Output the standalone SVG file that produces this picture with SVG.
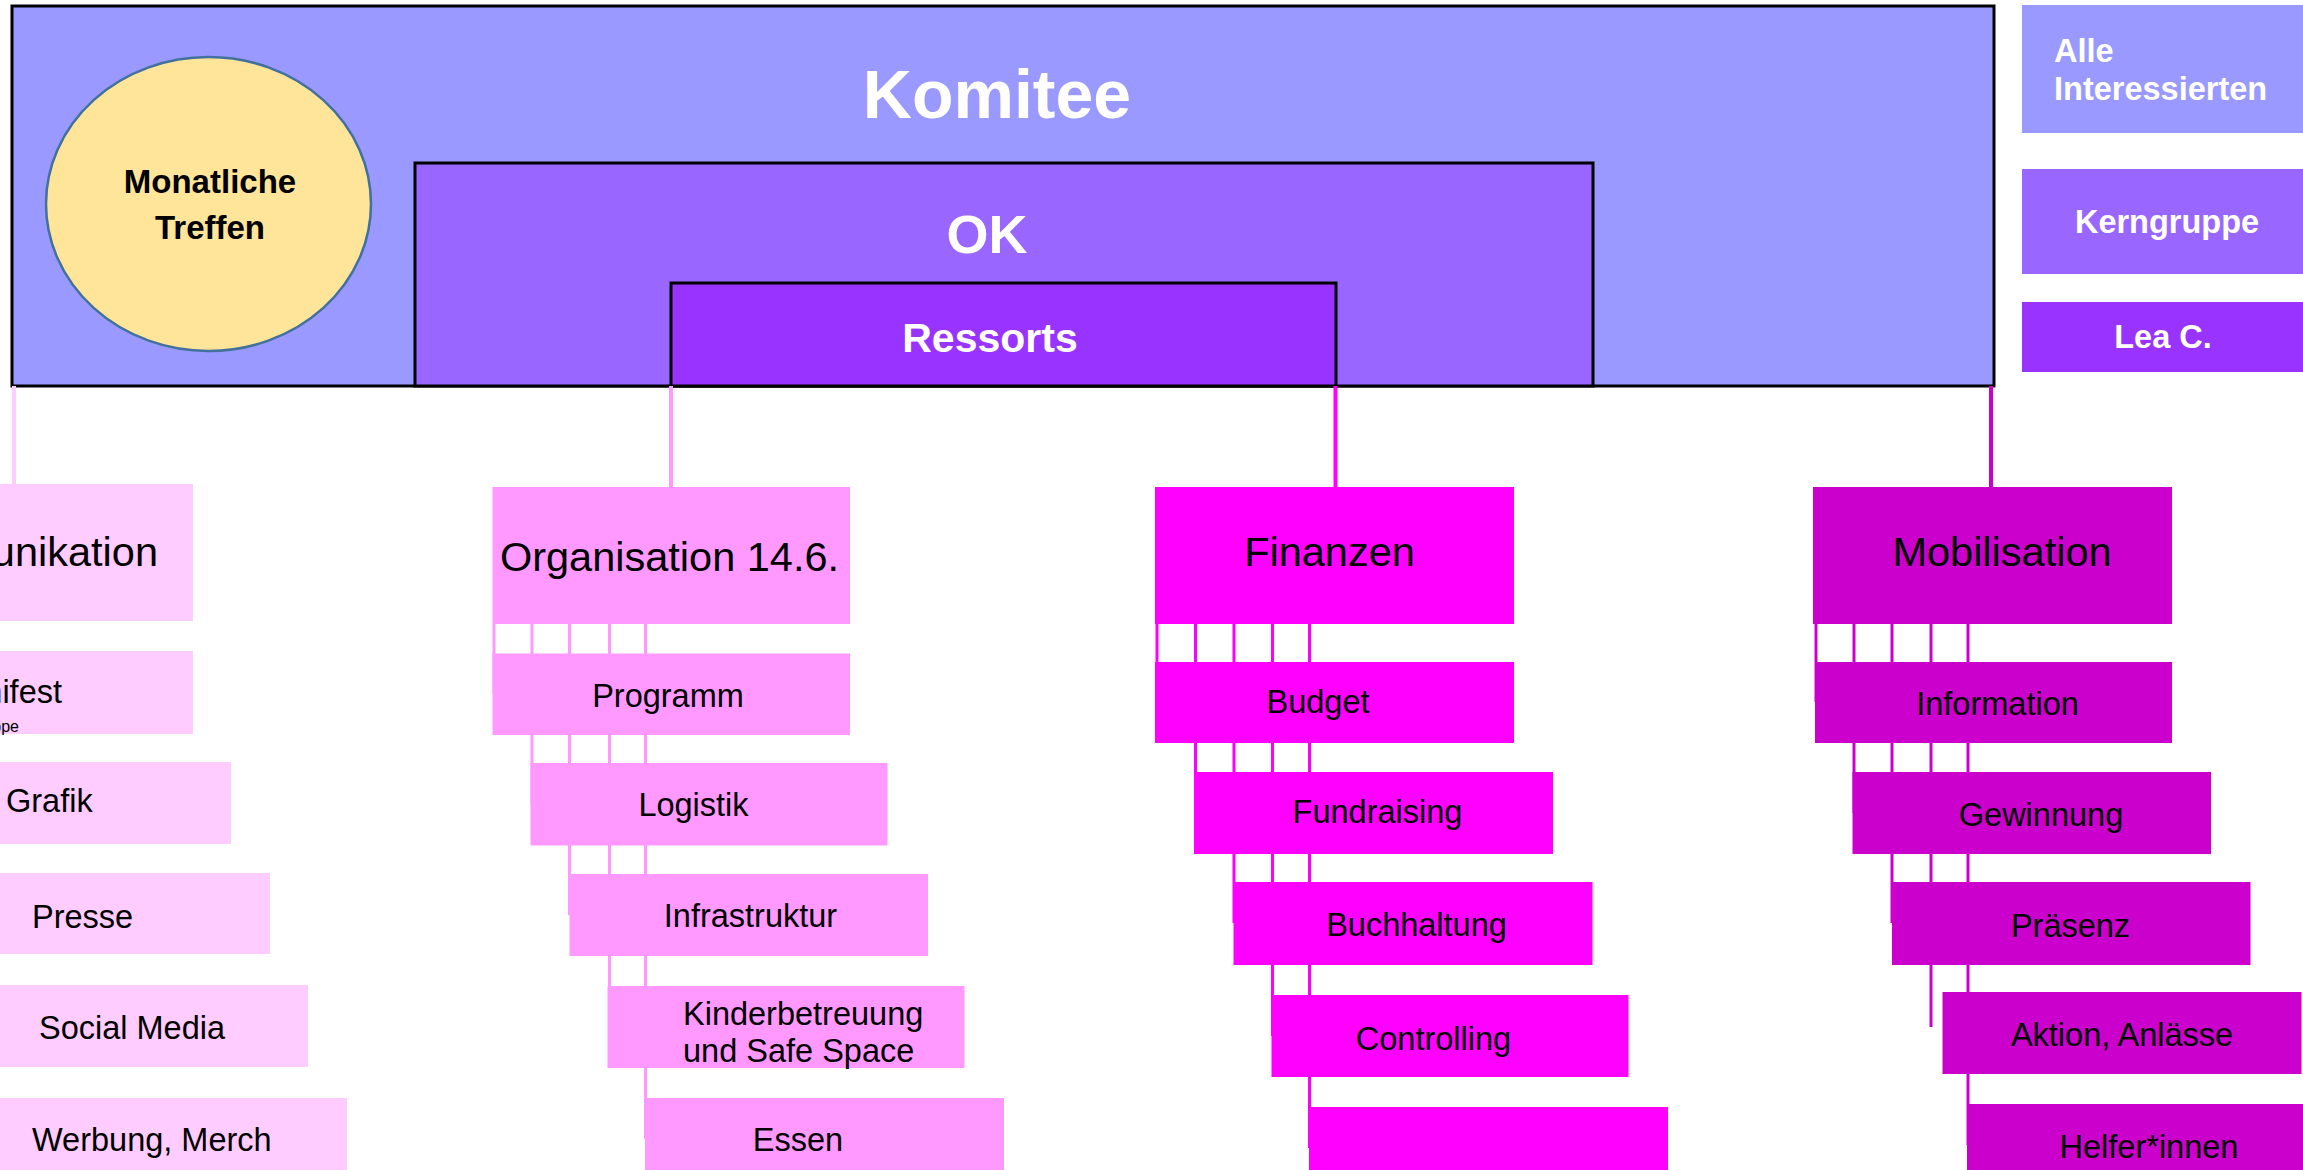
<svg xmlns="http://www.w3.org/2000/svg" width="2303" height="1170" viewBox="0 0 2303 1170">
<style>
.tb{font-family:"Liberation Sans",Arial,sans-serif;font-weight:bold;fill:#FFFFFF}
.tk{font-family:"Liberation Sans",Arial,sans-serif;font-weight:bold;fill:#000000}
.t{font-family:"Liberation Sans",Arial,sans-serif;fill:#000000}
.main{font-size:41.5px}
.sub{font-size:32.5px}
.k{fill:#FFCCFF}
.o{fill:#FF99FF}
.f{fill:#FF00FF}
.m{fill:#CC00CC}
.frame{stroke:#000000;stroke-width:3}
</style>
<rect width="2303" height="1170" fill="#FFFFFF"/>

<g id="komitee">
<rect x="12" y="6" width="1982" height="380" fill="#9999FF" class="frame"/>
<text x="997" y="118" text-anchor="middle" class="tb" font-size="68">Komitee</text>
</g>
<g id="ok">
<rect x="415" y="163" width="1178" height="223" fill="#9966FF" class="frame"/>
<text x="987" y="253" text-anchor="middle" class="tb" font-size="54">OK</text>
</g>
<g id="ressorts">
<rect x="671" y="283" width="665" height="103" fill="#9933FF" class="frame"/>
<text x="990" y="352" text-anchor="middle" class="tb" font-size="41">Ressorts</text>
</g>
<g id="monatliche-treffen">
<ellipse cx="208.5" cy="204" rx="162.5" ry="147" fill="#FFE599" stroke="#41719C" stroke-width="2.5"/>
<text x="210" y="193" text-anchor="middle" class="tk" font-size="33">Monatliche</text>
<text x="210" y="239" text-anchor="middle" class="tk" font-size="33">Treffen</text>
</g>

<g id="legend-alle">
<rect x="2022" y="5" width="290" height="128" fill="#9999FF"/>
<text x="2054" y="62" class="tb" font-size="32.5">Alle</text>
<text x="2054" y="100" class="tb" font-size="32.5">Interessierten</text>
</g>
<g id="legend-kerngruppe">
<rect x="2022" y="169" width="290" height="105" fill="#9966FF"/>
<text x="2167" y="233" text-anchor="middle" class="tb" font-size="32.5">Kerngruppe</text>
</g>
<g id="legend-lea">
<rect x="2022" y="302" width="290" height="70" fill="#9933FF"/>
<text x="2163" y="348" text-anchor="middle" class="tb" font-size="32.5">Lea C.</text>
</g>

<g id="connectors" fill="none">
<line x1="14" y1="386" x2="14" y2="485" stroke="#FFCCFF" stroke-width="4"/>
<line x1="671" y1="386" x2="671" y2="488" stroke="#FF99FF" stroke-width="4"/>
<line x1="1335.5" y1="386" x2="1335.5" y2="488" stroke="#FF00FF" stroke-width="4"/>
<line x1="1991" y1="386" x2="1991" y2="488" stroke="#CC00CC" stroke-width="4"/>
<g stroke="#FF99FF" stroke-width="3">
<line x1="494" y1="624" x2="494" y2="694"/>
<line x1="532" y1="624" x2="532" y2="804"/>
<line x1="569.5" y1="624" x2="569.5" y2="915"/>
<line x1="609.5" y1="624" x2="609.5" y2="1027"/>
<line x1="645.5" y1="624" x2="645.5" y2="1139"/>
</g>
<g stroke="#FF00FF" stroke-width="3">
<line x1="1157" y1="624" x2="1157" y2="702"/>
<line x1="1195.5" y1="624" x2="1195.5" y2="813"/>
<line x1="1234" y1="624" x2="1234" y2="923"/>
<line x1="1272.5" y1="624" x2="1272.5" y2="1036"/>
<line x1="1309.5" y1="624" x2="1309.5" y2="1148"/>
</g>
<g stroke="#CC00CC" stroke-width="3">
<line x1="1816" y1="624" x2="1816" y2="702"/>
<line x1="1854" y1="624" x2="1854" y2="813"/>
<line x1="1892" y1="624" x2="1892" y2="923"/>
<line x1="1931" y1="624" x2="1931" y2="1027"/>
<line x1="1968" y1="624" x2="1968" y2="1145"/>
</g>
</g>

<g id="kommunikation">
<rect x="-164" y="484" width="357" height="137" class="k"/>
<text x="158" y="566" text-anchor="end" class="t main">Kommunikation</text>
</g>
<g id="manifest">
<rect x="-164" y="651" width="357" height="83" class="k"/>
<text x="62" y="703" text-anchor="end" class="t sub">Manifest</text>
<text x="19" y="732" text-anchor="end" class="t" font-size="16">Arbeitsgruppe</text>
</g>
<g id="grafik">
<rect x="-126" y="762" width="357" height="82" class="k"/>
<text x="6" y="812" class="t sub">Grafik</text>
</g>
<g id="presse">
<rect x="-87" y="873" width="357" height="81" class="k"/>
<text x="32" y="927.5" class="t sub">Presse</text>
</g>
<g id="social-media">
<rect x="-49" y="985" width="357" height="82" class="k"/>
<text x="39" y="1039" class="t sub">Social Media</text>
</g>
<g id="werbung">
<rect x="-10" y="1098" width="357" height="82" class="k"/>
<text x="32" y="1151" class="t sub">Werbung, Merch</text>
</g>

<g id="organisation">
<rect x="492.5" y="487" width="357.5" height="137" class="o"/>
<text x="669.5" y="571" text-anchor="middle" class="t main">Organisation 14.6.</text>
</g>
<g id="programm">
<rect x="492.5" y="653.5" width="357.5" height="81.5" class="o"/>
<text x="668" y="707" text-anchor="middle" class="t sub">Programm</text>
</g>
<g id="logistik">
<rect x="530.5" y="763" width="357" height="82.5" class="o"/>
<text x="693.5" y="816" text-anchor="middle" class="t sub">Logistik</text>
</g>
<g id="infrastruktur">
<rect x="569.5" y="874" width="358.5" height="82" class="o"/>
<text x="750.5" y="926.5" text-anchor="middle" class="t sub">Infrastruktur</text>
</g>
<g id="kinderbetreuung">
<rect x="607.5" y="986" width="357" height="82" class="o"/>
<text x="683" y="1025" class="t sub">Kinderbetreuung</text>
<text x="683" y="1062" class="t sub">und Safe Space</text>
</g>
<g id="essen">
<rect x="645" y="1098" width="359" height="82" class="o"/>
<text x="798" y="1151" text-anchor="middle" class="t sub">Essen</text>
</g>

<g id="finanzen">
<rect x="1155" y="487" width="359" height="137" class="f"/>
<text x="1329.5" y="566" text-anchor="middle" class="t main">Finanzen</text>
</g>
<g id="budget">
<rect x="1155" y="662" width="359" height="81" class="f"/>
<text x="1318" y="712.5" text-anchor="middle" class="t sub">Budget</text>
</g>
<g id="fundraising">
<rect x="1194" y="772" width="359" height="82" class="f"/>
<text x="1377.5" y="823" text-anchor="middle" class="t sub">Fundraising</text>
</g>
<g id="buchhaltung">
<rect x="1233.5" y="882" width="359" height="83" class="f"/>
<text x="1416.5" y="935.5" text-anchor="middle" class="t sub">Buchhaltung</text>
</g>
<g id="controlling">
<rect x="1271.5" y="995" width="357" height="82" class="f"/>
<text x="1433.5" y="1050" text-anchor="middle" class="t sub">Controlling</text>
</g>
<g id="finanzen-5">
<rect x="1309" y="1107" width="359" height="83" class="f"/>
</g>

<g id="mobilisation">
<rect x="1813" y="487" width="359" height="137" class="m"/>
<text x="2002" y="566" text-anchor="middle" class="t main">Mobilisation</text>
</g>
<g id="information">
<rect x="1815" y="662" width="357" height="81" class="m"/>
<text x="1997.5" y="715" text-anchor="middle" class="t sub">Information</text>
</g>
<g id="gewinnung">
<rect x="1852.5" y="772" width="358.5" height="82" class="m"/>
<text x="2041" y="826" text-anchor="middle" class="t sub">Gewinnung</text>
</g>
<g id="praesenz">
<rect x="1892" y="882" width="358.5" height="83" class="m"/>
<text x="2070.5" y="936.5" text-anchor="middle" class="t sub">Präsenz</text>
</g>
<g id="aktion">
<rect x="1942.5" y="992" width="359" height="82" class="m"/>
<text x="2122" y="1046" text-anchor="middle" class="t sub">Aktion, Anlässe</text>
</g>
<g id="helfer">
<rect x="1967" y="1104" width="359" height="82" class="m"/>
<text x="2149" y="1158" text-anchor="middle" class="t sub">Helfer*innen</text>
</g>
</svg>
